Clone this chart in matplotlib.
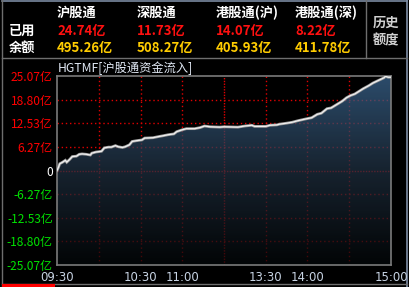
import numpy as np
import matplotlib
matplotlib.use("Agg")
import matplotlib.pyplot as plt
from matplotlib.colors import LinearSegmentedColormap

plt.rcParams['font.family'] = ['Noto Sans CJK SC', 'DejaVu Sans']

# header table
channels = ["沪股通", "深股通", "港股通(沪)", "港股通(深)"]
used = ["24.74亿", "11.73亿", "14.07亿", "8.22亿"]
remaining = ["495.26亿", "508.27亿", "405.93亿", "411.78亿"]

# trading minutes after 09:30 and cumulative inflow (亿)
minutes = [0, 1, 2, 4, 6, 7, 9, 11, 14, 16, 18, 21, 24, 25, 28, 30, 32, 34, 37, 39,
           42, 44, 47, 49, 52, 54, 57, 61, 63, 69, 73, 76, 80, 84, 86, 90, 93, 99,
           103, 106, 110, 117, 120, 130, 135, 140, 142, 150, 153, 158, 160, 164,
           169, 173, 179, 183, 187, 190, 194, 197, 201, 205, 208, 211, 214, 217,
           220, 224, 227, 231, 235, 236, 238, 240]
inflow = [0.0, 0.8, 1.8, 2.2, 2.7, 2.2, 2.9, 3.7, 3.8, 4.3, 4.4, 4.3, 4.1, 4.6, 4.9,
          5.0, 5.1, 6.0, 6.2, 6.2, 6.6, 6.3, 6.1, 6.3, 6.8, 7.7, 7.9, 8.1, 8.6, 8.7,
          9.0, 9.2, 9.5, 9.7, 10.3, 10.8, 11.1, 11.1, 11.4, 11.8, 11.6, 11.5, 11.6,
          11.5, 11.8, 12.0, 11.7, 11.7, 12.0, 12.1, 12.3, 12.5, 12.8, 13.2, 13.7,
          14.0, 14.9, 15.2, 16.4, 16.6, 17.5, 18.4, 19.3, 19.9, 20.3, 21.0, 21.7,
          22.5, 23.2, 23.9, 24.6, 25.0, 24.74, 24.74]

ymax = 25.07
ytick_vals = [-25.07, -18.80, -12.53, -6.27, 0, 6.27, 12.53, 18.80, 25.07]
ytick_labels = ["-25.07亿", "-18.80亿", "-12.53亿", "-6.27亿", "0",
                "6.27亿", "12.53亿", "18.80亿", "25.07亿"]
xtick_pos = [0, 60, 90, 150, 180, 240]
xtick_labels = ["09:30", "10:30", "11:00", "13:30", "14:00", "15:00"]
xgrid = [30, 60, 90, 120, 150, 180, 210]

W, H = 410, 287
fig = plt.figure(figsize=(W / 100, H / 100), dpi=100, facecolor="black")

# full-figure overlay in pixel coords for header and frame
bg = fig.add_axes([0, 0, 1, 1], zorder=0)
bg.set_xlim(0, W)
bg.set_ylim(H, 0)
bg.axis("off")
bg.set_facecolor("black")

frame = "#6e6e6e"
bg.plot([2, 407], [1, 1], color="#7a8aa0", lw=1.2)
bg.plot([2, 2], [0, H], color=frame, lw=1)
bg.plot([407, 407], [0, H], color="#8090a8", lw=1.2)
bg.plot([2, 407], [58, 58], color=frame, lw=1)
bg.plot([366.5, 366.5], [0, 58], color=frame, lw=1)
bg.plot([2, 407], [283.5, 283.5], color=frame, lw=1)
bg.plot([2, 55], [285.5, 285.5], color="#ff0000", lw=3, solid_capstyle="butt")

col_x = [57, 137, 216, 295]
hfs = 9.5
for i, name in enumerate(channels):
    bg.text(col_x[i], 13, name, color="white", fontsize=hfs, fontweight="bold", va="center")
    bg.text(col_x[i], 31, used[i], color="#ff1010", fontsize=hfs, fontweight="bold", va="center")
    bg.text(col_x[i], 48, remaining[i], color="#ffcc00", fontsize=hfs, fontweight="bold", va="center")
bg.text(9, 31, "已用", color="white", fontsize=hfs, fontweight="bold", va="center")
bg.text(9, 48, "余额", color="white", fontsize=hfs, fontweight="bold", va="center")
bg.text(373, 22.5, "历史", color="#d0d0d0", fontsize=hfs, fontweight="bold", va="center")
bg.text(373, 40, "额度", color="#d0d0d0", fontsize=hfs, fontweight="bold", va="center")
bg.text(58, 68, "HGTMF[沪股通资金流入]", color="#e0e8f4", fontsize=8.8, va="center")

# main chart
ax = fig.add_axes([57 / W, (H - 265) / H, (391 - 57) / W, (265 - 76) / H], zorder=1)
ax.set_facecolor("black")
ax.set_xlim(0, 240)
ax.set_ylim(-ymax, ymax)

for y in ytick_vals[1:-1]:
    dens = (0, (1, 1)) if y == 0 else (0, (1, 2))
    ax.axhline(y, color="#e00000", lw=1.0, linestyle=dens, zorder=1)
for x in xgrid:
    dens = (0, (1, 1)) if x == 120 else (0, (1, 2))
    ax.axvline(x, color="#e00000", lw=1.0, linestyle=dens, zorder=1)

cmap = LinearSegmentedColormap.from_list("flow", ["#040709", "#203142", "#3e6b97"])
grad = np.linspace(0, 1, 256).reshape(-1, 1)
im = ax.imshow(grad, extent=[0, 240, -ymax, ymax], origin="lower", cmap=cmap,
               aspect="auto", alpha=0.72, zorder=2, interpolation="bilinear")
poly = ax.fill_between(minutes, inflow, -ymax, facecolor="none", edgecolor="none")
im.set_clip_path(poly.get_paths()[0], transform=ax.transData)
ax.set_xlim(0, 240)
ax.set_ylim(-ymax, ymax)

ax.plot(minutes, inflow, color="#9a9a9a", lw=2.0, zorder=3, solid_joinstyle="miter")
ax.plot(minutes, inflow, color="#f0f0f0", lw=0.9, zorder=4)

for s in ax.spines.values():
    s.set_color("#7a7a7a")
    s.set_linewidth(1.2)

ax.set_yticks(ytick_vals)
ax.set_yticklabels(ytick_labels, fontsize=8.6)
for lab, v in zip(ax.get_yticklabels(), ytick_vals):
    lab.set_color("#ff0000" if v > 0 else ("#00e000" if v < 0 else "white"))
ax.tick_params(axis="y", length=0, pad=3)

ax.set_xticks(xtick_pos)
ax.set_xticklabels(xtick_labels, fontsize=8.5, family="DejaVu Sans", color="#c8d4e4")
ax.tick_params(axis="x", length=0, pad=4.5)

fig.savefig("out.png", dpi=100, facecolor="black")
